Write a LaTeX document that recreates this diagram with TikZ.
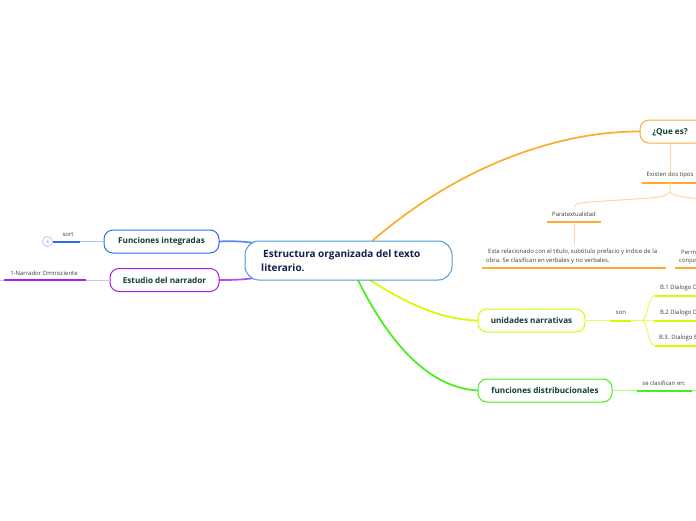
\documentclass[tikz,border=0pt]{standalone}
\usepackage{fontspec}
\setmainfont{Open Sans}
\definecolor{orangeM}{HTML}{FFA92E}
\definecolor{orangeL}{HTML}{FFD9A0}
\definecolor{limeM}{HTML}{CCFF00}
\definecolor{limeL}{HTML}{DDFF66}
\definecolor{greenM}{HTML}{44F016}
\definecolor{greenL}{HTML}{A0FF80}
\definecolor{blueM}{HTML}{2F6BF0}
\definecolor{blueL}{HTML}{A9C4FA}
\definecolor{purpM}{HTML}{A81EEB}
\definecolor{purpL}{HTML}{E0B8F8}
\definecolor{centerB}{HTML}{4A9BD8}
\definecolor{navyT}{HTML}{10204F}
\definecolor{greenT}{HTML}{0F3D33}
\definecolor{grayT}{HTML}{3A3A3A}
\tikzset{
  x=1pt,y=-1pt,
  mainbox/.style={draw,line width=1pt,rounded corners=9pt,fill=white,inner sep=0pt,font=\bfseries\fontsize{8.15}{10}\selectfont,text=greenT,align=center},
  centertext/.style={anchor=west,inner sep=0pt,font=\bfseries\fontsize{10}{12}\selectfont,text=navyT},
  small/.style={font=\fontsize{5.95}{9}\selectfont,text=grayT,inner sep=0pt},
  bar/.style={line width=2pt},
  thin link/.style={line width=1pt},
  trunk/.style={line width=1.7pt}
}
\begin{document}
\begin{tikzpicture}
\useasboundingbox (0,0) rectangle (696,520);
\clip (0,0) rectangle (696,520);
% anchors for connectors
\coordinate (cOrange) at (372,241);
\coordinate (cLime) at (370,280);
\coordinate (cGreen) at (358,280);
\coordinate (cBlue) at (255,243);
\coordinate (cPurp) at (255,278);
% connectors of the central node
\draw[trunk,orangeM] (cOrange) .. controls (460,165) and (560,131) .. (640,131.5) coordinate (qIn);
\draw[trunk,limeM] (cLime) .. controls (410,306) and (445,320) .. (478,320.5) coordinate (uIn);
\draw[trunk,greenM] (cGreen) .. controls (390,345) and (430,388) .. (478,390.5) coordinate (fIn);
\draw[trunk,blueM!80] (cBlue) .. controls (240,241) and (230,241) .. (219,241.5) coordinate (iIn);
\draw[trunk,purpM!80] (cPurp) .. controls (240,280) and (230,280) .. (219,280) coordinate (eIn);
% main nodes
\node[mainbox,draw=centerB,rounded corners=14pt,minimum width=207pt,minimum height=39pt] (central) at (348.5,260.5) {};
\node[centertext] (ct1) at (263,254.5) {Estructura organizada del texto};
\node[centertext] (ct2) at (261,268) {literario.};
\node[mainbox,draw=orangeM,minimum width=64pt,minimum height=23pt] (que) at (672,131.5) {};
\node[inner sep=0pt,font=\bfseries\fontsize{8.15}{10}\selectfont,text=greenT] (queT) at (670,132) {¿Que es?};
\node[mainbox,draw=limeM,minimum width=107pt,minimum height=23pt] (unid) at (531.5,320.5) {unidades narrativas};
\node[mainbox,draw=greenM,minimum width=134pt,minimum height=23pt] (func) at (545,390.5) {funciones distribucionales};
\node[mainbox,draw=blueM,minimum width=115pt,minimum height=23pt] (integ) at (161.5,241.5) {Funciones integradas};
\node[mainbox,draw=purpM,minimum width=109pt,minimum height=23pt] (narr) at (164.5,280) {Estudio del narrador};
% orange branch
\node[small] (tipos) at (670,174.5) {Existen dos tipos};
\coordinate (tiposL) at (642,182.5); \coordinate (tiposR) at (700,182.5);
\draw[bar,orangeM] (tiposL) -- (tiposR);
\coordinate (tiposB) at (670,182.5);
\draw[thin link,orangeL] (que.south -| tiposB) -- (tipos.north);
\coordinate (para) at (574,207);
\node[small] (paraT) at (574,214) {Paratextualidad};
\coordinate (paraL) at (547,221.5); \coordinate (paraR) at (601,221.5);
\draw[bar,orangeM] (paraL) -- (paraR);
\coordinate (paraB) at (574,221.5);
\draw[thin link,orangeL] (tiposB) -- (670,192) .. controls (667,196) and (660,197) .. (650,198) -- (590,202) .. controls (579,203) and (575,204) .. (para);
\draw[thin link,orangeL] (670,192) .. controls (673,196) and (683,197) .. (700,199);
\node[anchor=west,small] (est1) at (488,252) {Esta relacionado con el titulo, subtitulo prefacio y indice de la};
\node[anchor=west,small] (est2) at (486,261) {obra. Se clasifican en verbales y no verbales.};
\coordinate (estT) at (574,245);
\draw[thin link,orangeL] (paraB) -- (estT);
\coordinate (estL) at (482,268); \coordinate (estR) at (666,268);
\draw[bar,orangeM] (estL) -- (estR);
\node[anchor=west,small] (per1) at (681,252) {Perm};
\node[anchor=west,small] (per2) at (679,261) {conjur};
\coordinate (perL) at (675,268); \coordinate (perR) at (700,268);
\draw[bar,orangeM] (perL) -- (perR);
% lime branch
\node[small] (son) at (621,313) {son};
\coordinate (sonL) at (610,320.5); \coordinate (sonR) at (631,320.5);
\draw[bar,limeM] (sonL) -- (sonR);
\draw[thin link,limeL] (unid.east) -- (sonL);
\coordinate (hub) at (642,320.5);
\node[small,anchor=west] (b1) at (660,288) {B.1 Dialogo D};
\node[small,anchor=west] (b2) at (660,313) {B.2 Dialogo D};
\node[small,anchor=west] (b3) at (659,338) {B.3. Dialogo B};
\coordinate (b1L) at (655,295.5); \coordinate (b2L) at (654,320.5); \coordinate (b3L) at (655,345.5);
\draw[bar,limeM] (b1L) -- (700,295.5);
\draw[bar,limeM] (b2L) -- (700,320.5);
\draw[bar,limeM] (b3L) -- (700,345.5);
\draw[thin link,limeL] (sonR) -- (b2L);
\draw[thin link,limeL] (hub) .. controls (649,318) and (647,296) .. (b1L);
\draw[thin link,limeL] (hub) .. controls (649,323) and (647,345) .. (b3L);
% green branch
\node[small] (clas) at (664,383) {se clasifican en:};
\coordinate (clasL) at (637,390.5); \coordinate (clasR) at (692,390.5);
\draw[bar,greenM] (clasL) -- (clasR);
\draw[thin link,greenL] (func.east) -- (clasL);
\draw[thin link,greenL] (clasR) -- (700,390.5);
% blue branch
\node[small] (sort) at (68,235) {sort};
\coordinate (sortL) at (56,241.5); \coordinate (sortR) at (80,241.5);
\draw[bar,blueM] (sortL) -- (sortR);
\draw[thin link,blueL] (sortR) -- (integ.west);
\node[circle,draw=blueL,line width=0.7pt,minimum size=10pt,inner sep=0pt,font=\fontsize{5}{6}\selectfont,text=blueM!70] (four) at (47.5,241.5) {4};
\draw[bar,blueM] (four.east) -- (sortL);
% purple branch
\node[small] (omni) at (44,273) {1-Narrador Omnisciente};
\coordinate (omniL) at (4,280); \coordinate (omniR) at (86,280);
\draw[bar,purpM] (omniL) -- (omniR);
\draw[thin link,purpL] (omniR) -- (narr.west);
\draw[thin link,purpL] (-4,280) -- (omniL);
\end{tikzpicture}
\end{document}
